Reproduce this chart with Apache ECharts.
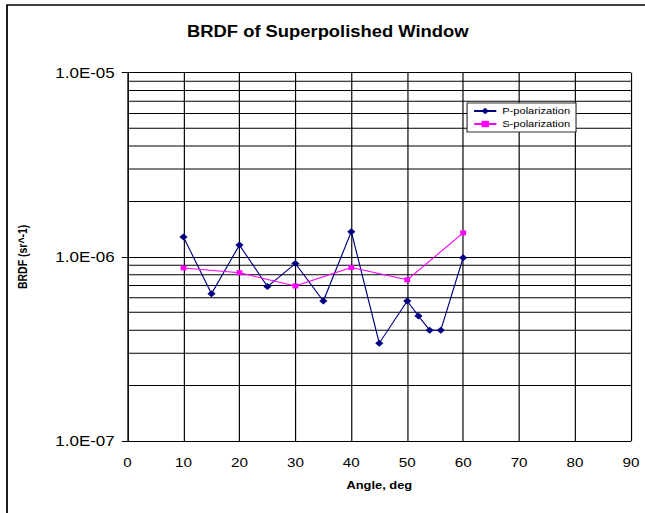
<!DOCTYPE html>
<html>
<head>
<meta charset="utf-8">
<title>BRDF of Superpolished Window</title>
<script src="https://cdn.jsdelivr.net/npm/echarts@6/dist/echarts.min.js"></script>
<style>
  html, body { margin: 0; padding: 0; background: #fff; overflow: hidden; }
  /* the chart is laid out narrower and widened, giving the broad lettering of the original sheet */
  #chart { width: 551px; height: 513px; transform: scaleX(1.1706); transform-origin: 0 0; }
</style>
</head>
<body>
<div id="chart"></div>
<script>
// Scattering angles (deg) and measured BRDF (sr^-1)
const pAngles = [10, 15, 20, 25, 30, 35, 40, 45, 50, 52, 54, 56, 60];
const pBrdf = [1.28e-6, 0.63e-6, 1.16e-6, 0.69e-6, 0.92e-6, 0.576e-6, 1.37e-6, 0.34e-6, 0.576e-6, 0.477e-6, 0.40e-6, 0.40e-6, 0.99e-6];
const sAngles = [10, 20, 30, 40, 50, 60];
const sBrdf = [0.87e-6, 0.82e-6, 0.695e-6, 0.875e-6, 0.75e-6, 1.35e-6];

const seriesNames = ['P-polarization', 'S-polarization'];
const yDecades = [-7, -6, -5];          // log axis spans 1e-7 .. 1e-5
const xRange = [0, 90];

// horizontal rules at 2..9 x 10^k between decades
const minorLevels = [];
for (let d = yDecades[0]; d < yDecades[yDecades.length - 1]; d++) {
  for (let m = 2; m <= 9; m++) minorLevels.push(m * Math.pow(10, d));
}

const FONT = "'Liberation Sans', Arial, sans-serif";
const pairs = (xs, ys) => xs.map((x, i) => [x, ys[i]]);
const sci = v => {
  const e = Math.round(Math.log10(v));
  const m = v / Math.pow(10, e);
  return m.toFixed(1) + 'E' + (e < 0 ? '-' : '+') + String(Math.abs(e)).padStart(2, '0');
};

const minorSeries = minorLevels.map((v, i) => ({
  name: 'minor-' + i, type: 'line', silent: true, z: 1,
  data: [[xRange[0], v], [xRange[1], v]],
  symbol: 'none', showSymbol: false,
  lineStyle: { color: '#000', width: 1 },
  emphasis: { disabled: true }, tooltip: { show: false }
}));

const chart = echarts.init(document.getElementById('chart'), null, { renderer: 'svg' });
chart.setOption({
  animation: false,
  backgroundColor: '#fff',
  title: {
    text: 'BRDF of Superpolished Window',
    left: 275, top: 19, textAlign: 'center',
    textStyle: { fontFamily: FONT, fontWeight: 'bold', fontSize: 15.7, color: '#000' }
  },
  graphic: [{
    type: 'rect', silent: true,
    shape: { x: 6, y: 5, width: 2000, height: 2000 },
    style: { fill: 'none', stroke: '#000', lineWidth: 1.5 }
  }],
  legend: {
    orient: 'vertical', left: 399, top: 103,
    backgroundColor: '#fff', borderColor: '#333', borderWidth: 1, borderRadius: 0,
    padding: [3, 5, 3, 5], itemGap: 3, itemWidth: 19, itemHeight: 8,
    textStyle: { fontFamily: FONT, fontSize: 9.5, color: '#000' },
    data: seriesNames
  },
  grid: { left: 109, right: 12, top: 72.7, bottom: 72, containLabel: false },
  xAxis: {
    type: 'value', min: xRange[0], max: xRange[1], interval: 10,
    name: 'Angle, deg', nameLocation: 'middle', nameGap: 39,
    nameTextStyle: { fontFamily: FONT, fontWeight: 'bold', fontSize: 11, color: '#000' },
    axisLine: { show: true, lineStyle: { color: '#000', width: 1 } },
    axisTick: { show: false },
    axisLabel: { margin: 15, fontFamily: FONT, fontSize: 13, color: '#000' },
    splitLine: { show: true, lineStyle: { color: '#000', width: 1 } }
  },
  yAxis: {
    type: 'log', logBase: 10, min: Math.pow(10, yDecades[0]), max: Math.pow(10, yDecades[2]),
    name: 'BRDF (sr^-1)', nameLocation: 'middle', nameGap: 84, nameRotate: 90,
    nameTextStyle: { fontFamily: FONT, fontWeight: 'bold', fontSize: 10.5, color: '#000' },
    axisLine: { show: true, lineStyle: { color: '#000', width: 1 } },
    axisTick: { show: true, inside: false, length: 5, lineStyle: { color: '#000' } },
    axisLabel: { margin: 11, fontFamily: FONT, fontSize: 14.5, color: '#000', formatter: sci },
    splitLine: { show: true, lineStyle: { color: '#000', width: 1 } },
    minorTick: { show: false }, minorSplitLine: { show: false }
  },
  series: minorSeries.concat([
    {
      name: seriesNames[0], type: 'line', z: 3,
      data: pairs(pAngles, pBrdf),
      symbol: 'diamond', symbolSize: 7,
      itemStyle: { color: '#000080' },
      lineStyle: { color: '#000080', width: 1 }
    },
    {
      name: seriesNames[1], type: 'line', z: 3,
      data: pairs(sAngles, sBrdf),
      symbol: 'rect', symbolSize: 5,
      itemStyle: { color: '#FF00FF' },
      lineStyle: { color: '#FF00FF', width: 1 }
    }
  ])
});
</script>
</body>
</html>
